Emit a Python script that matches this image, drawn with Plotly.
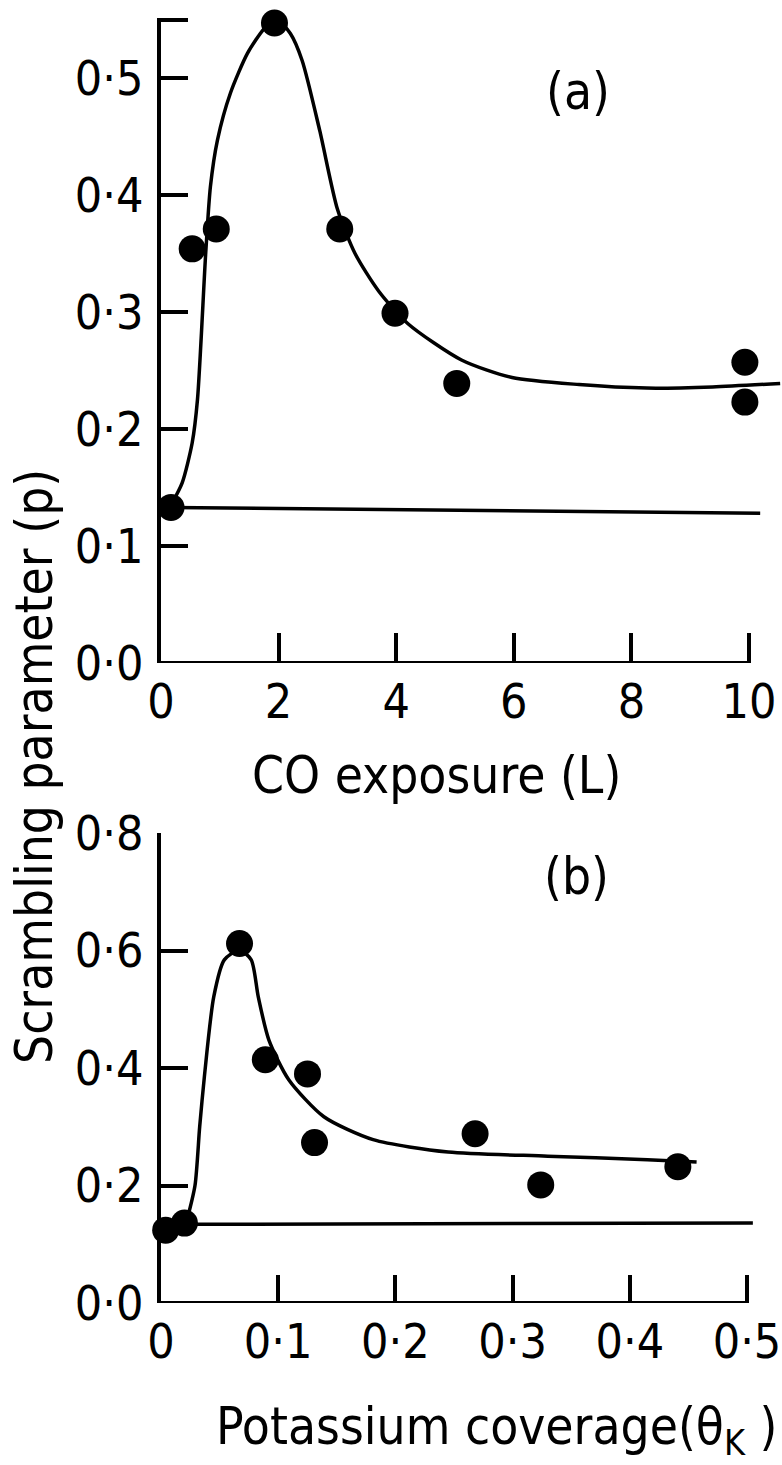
import plotly.graph_objects as go

# ---------------- data ----------------
# Panel (a): scrambling parameter vs CO exposure
a_exposure = [0.17, 0.53, 0.94, 1.93, 3.04, 3.98, 5.03, 9.93, 9.93]
a_p = [0.133, 0.354, 0.371, 0.547, 0.371, 0.299, 0.239, 0.257, 0.223]
# hand-drawn guide curve through the points
a_curve_x = [0.17, 0.36, 0.53, 0.62, 0.76, 0.84, 0.96, 1.18, 1.47, 1.75, 1.95,
             2.2, 2.4, 2.7, 3.0, 3.3, 3.7, 4.2, 5.11, 5.97, 7.11,
             8.26, 9.38, 10.53]
a_curve_y = [0.135, 0.154, 0.188, 0.225, 0.350, 0.407, 0.447, 0.487, 0.521,
             0.542, 0.551, 0.538, 0.515, 0.455, 0.388, 0.350, 0.318, 0.290,
             0.259, 0.244, 0.238, 0.235, 0.236, 0.239]
# clean-surface level
a_base_x = [0.17, 10.19]
a_base_y = [0.133, 0.128]

a_xticks = [0, 2, 4, 6, 8, 10]
a_xticklabels = ["0", "2", "4", "6", "8", "10"]
a_yticks = [0.0, 0.1, 0.2, 0.3, 0.4, 0.5, 0.550]
a_yticklabels = ["0·0", "0·1", "0·2", "0·3", "0·4", "0·5", ""]

# Panel (b): scrambling parameter vs potassium coverage
b_theta = [0.004, 0.02, 0.067, 0.089, 0.125, 0.131, 0.268, 0.324, 0.441]
b_p = [0.124, 0.136, 0.612, 0.414, 0.390, 0.273, 0.288, 0.201, 0.232]
b_curve_x = [0.022, 0.029, 0.033, 0.037, 0.045, 0.054, 0.067, 0.077,
             0.083, 0.092, 0.109, 0.139, 0.181, 0.245, 0.33, 0.415, 0.457]
b_curve_y = [0.140, 0.200, 0.300, 0.385, 0.521, 0.584, 0.601, 0.584,
             0.521, 0.448, 0.380, 0.317, 0.278, 0.257, 0.250, 0.244, 0.240]
b_base_x = [0.02, 0.505]
b_base_y = [0.134, 0.136]

b_xticks = [0, 0.1, 0.2, 0.3, 0.4, 0.5]
b_xticklabels = ["0", "0·1", "0·2", "0·3", "0·4", "0·5"]
b_yticks = [0.0, 0.2, 0.4, 0.6, 0.8]
b_yticklabels = ["0·0", "0·2", "0·4", "0·6", "0·8"]

# ---------------- layout helpers ----------------
W, H = 782, 1465
def px_x(v):
    return v / W
def px_y(v):
    return 1 - v / H

TICK_FONT = dict(family="Liberation Sans Narrow, DejaVu Sans Condensed, Liberation Sans, sans-serif",
                 size=48, color="black")
TEXT_FONT = dict(family="DejaVu Sans Condensed, Liberation Sans, sans-serif", size=51, color="black")

fig = go.Figure()

line_style = dict(color="black", width=3.5)
marker_style = dict(color="black", size=27)

# panel a
fig.add_trace(go.Scatter(x=a_base_x, y=a_base_y, mode="lines", line=line_style,
                         xaxis="x", yaxis="y", showlegend=False))
fig.add_trace(go.Scatter(x=a_curve_x, y=a_curve_y, mode="lines",
                         line=dict(color="black", width=3.5, shape="spline", smoothing=0.7),
                         xaxis="x", yaxis="y", showlegend=False))
fig.add_trace(go.Scatter(x=a_exposure, y=a_p, mode="markers", marker=marker_style,
                         cliponaxis=False, xaxis="x", yaxis="y", showlegend=False))
# panel b
fig.add_trace(go.Scatter(x=b_base_x, y=b_base_y, mode="lines", line=line_style,
                         xaxis="x2", yaxis="y2", showlegend=False))
fig.add_trace(go.Scatter(x=b_curve_x, y=b_curve_y, mode="lines",
                         line=dict(color="black", width=3.5, shape="spline", smoothing=0.7),
                         xaxis="x2", yaxis="y2", showlegend=False))
fig.add_trace(go.Scatter(x=b_theta, y=b_p, mode="markers", marker=marker_style,
                         cliponaxis=False, xaxis="x2", yaxis="y2", showlegend=False))

# axis start (px 161) coincides with the zero of each x scale
a_xrange = [0, (782 - 161) / ((749 - 161) / 10)]
b_xrange = [0, (782 - 161) / ((747 - 161) / 0.5)]

common_x = dict(showgrid=False, zeroline=False, showline=False, ticks="inside",
                tickwidth=4, tickcolor="black", tickfont=TICK_FONT, tickmode="array",
                ticklabelstandoff=6, automargin=False, ticklabeloverflow="allow")
common_y = dict(showgrid=False, zeroline=False, showline=True, linecolor="black",
                linewidth=4, ticks="inside", ticklen=27, tickwidth=4, tickcolor="black",
                tickfont=TICK_FONT, tickmode="array", ticklabelstandoff=4,
                automargin=False, ticklabeloverflow="allow")

fig.update_layout(
    width=W, height=H, autosize=False,
    margin=dict(l=0, r=0, t=0, b=0, pad=0),
    paper_bgcolor="white", plot_bgcolor="white",
    xaxis=dict(domain=[px_x(161), 1.0], range=a_xrange, anchor="y",
               tickvals=a_xticks, ticktext=a_xticklabels, ticklen=30, **common_x),
    yaxis=dict(domain=[px_y(663), px_y(18)], range=[0, 0.5513], anchor="x",
               tickvals=a_yticks, ticktext=a_yticklabels, **common_y),
    xaxis2=dict(domain=[px_x(161), 1.0], range=b_xrange, anchor="y2",
                tickvals=b_xticks, ticktext=b_xticklabels, ticklen=28, **common_x),
    yaxis2=dict(domain=[px_y(1303), px_y(833)], range=[0, 0.8], anchor="x2",
                tickvals=b_yticks, ticktext=b_yticklabels, **common_y),
)

# x-axis baselines (from the left axis edge to the last tick)
fig.add_shape(type="line", xref="x", yref="y", x0=a_xrange[0], x1=a_xticks[-1], y0=0, y1=0,
              line=dict(color="black", width=4))
fig.add_shape(type="line", xref="x2", yref="y2", x0=b_xrange[0], x1=b_xticks[-1], y0=0, y1=0,
              line=dict(color="black", width=4))

annotations = [
    dict(text="(a)", x=px_x(578), y=px_y(92)),
    dict(text="(b)", x=px_x(576), y=px_y(876)),
    dict(text="CO exposure (L)", x=px_x(436), y=px_y(775)),
    dict(text="Potassium coverage(θ<sub>K</sub> )", x=px_x(496), y=px_y(1430)),
    dict(text="Scrambling parameter (p)", x=px_x(34), y=px_y(767), textangle=-90),
]
for a in annotations:
    fig.add_annotation(xref="paper", yref="paper", showarrow=False,
                       xanchor="center", yanchor="middle", font=TEXT_FONT, **a)

fig.write_html("out.html")
